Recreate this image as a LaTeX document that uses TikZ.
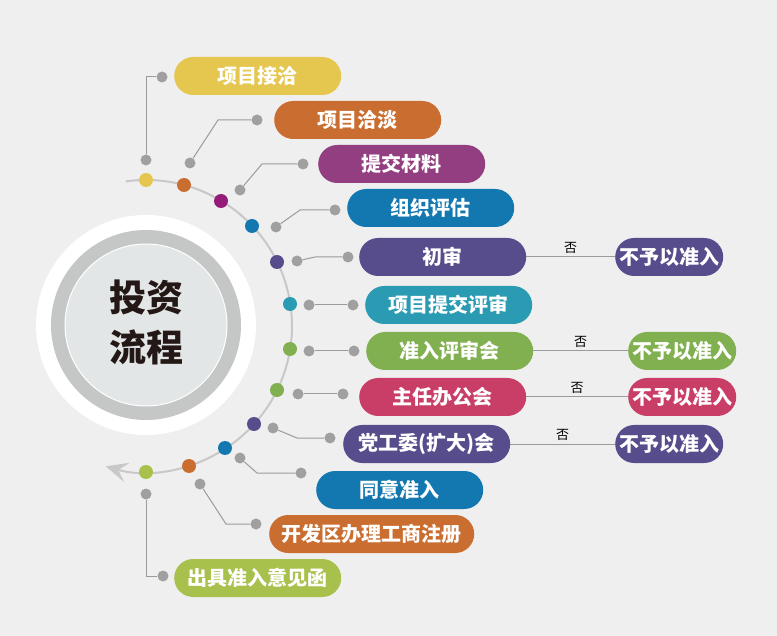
\documentclass[tikz,border=0pt]{standalone}
\usepackage{fontspec}
\usepackage{xcolor}
\usepackage{tikz}
\usetikzlibrary{arrows.meta}
\newfontfamily\cjk{Noto Sans CJK SC}
\definecolor{IPBack}{HTML}{EFEFEF}
\definecolor{IPYellow}{HTML}{E5C64F}
\definecolor{IPOrange}{HTML}{C96D30}
\definecolor{IPPlum}{HTML}{933E80}
\definecolor{IPMagenta}{HTML}{951B78}
\definecolor{IPBlue}{HTML}{1478B0}
\definecolor{IPPurple}{HTML}{574C8C}
\definecolor{IPTeal}{HTML}{2A9BB3}
\definecolor{IPGreen}{HTML}{80B04F}
\definecolor{IPRose}{HTML}{C93E66}
\definecolor{IPLime}{HTML}{A8C04C}
\definecolor{IPDot}{HTML}{A0A0A0}
\definecolor{IPLine}{HTML}{9B9B9B}
\definecolor{IPArc}{HTML}{C8C8C8}
\definecolor{IPRing}{HTML}{C5C6C6}
\definecolor{IPCore}{HTML}{E3E6E7}
\definecolor{IPInk}{HTML}{231815}

\begin{document}
\begin{tikzpicture}[x=1pt,y=1pt,yscale=-1,
  stepbox/.style={rounded corners=19pt,minimum height=38pt,minimum width=167pt,inner sep=0pt,anchor=west,text=white,font=\cjk\bfseries\fontsize{20}{20}\selectfont},
  nobox/.style={stepbox,minimum width=108pt},
  arcdot/.style={circle,inner sep=0pt,minimum size=14pt},
  pin/.style={circle,fill=IPDot,inner sep=0pt,minimum size=11pt},
  link/.style={IPLine,line width=1pt},
  nolabel/.style={above=2pt,inner sep=1pt,text=black,font=\cjk\fontsize{13}{13}\selectfont}]
\fill[IPBack] (0,0) rectangle (777,636);
\path[use as bounding box] (0,0) rectangle (777,636);
% hub
\fill[white] (146,325) circle (110);
\fill[IPRing] (146,325) circle (95);
\draw[white,line width=1pt,fill=IPCore] (146,325) circle (81);
\node[align=center,text=IPInk,font=\cjk\bfseries\fontsize{37}{50}\selectfont] (hub) at (146,322) {投资\\流程};
% arc with arrow
\draw[IPArc,line width=2pt,-{Stealth[length=22pt,width=20pt,inset=9pt]}] (146,326) ++(-98:146) arc[start angle=-98,end angle=106,radius=146];
% dots on the arc
\node[arcdot,fill=IPYellow] (d1) at (146,180) {};
\node[arcdot,fill=IPOrange] (d2) at (184,185) {};
\node[arcdot,fill=IPMagenta] (d3) at (221,201) {};
\node[arcdot,fill=IPBlue] (d4) at (252,226) {};
\node[arcdot,fill=IPPurple] (d5) at (277,262) {};
\node[arcdot,fill=IPTeal] (d6) at (290,304) {};
\node[arcdot,fill=IPGreen] (d7) at (290,349) {};
\node[arcdot,fill=IPGreen] (d8) at (277,390) {};
\node[arcdot,fill=IPPurple] (d9) at (254,424) {};
\node[arcdot,fill=IPBlue] (d10) at (225,448) {};
\node[arcdot,fill=IPOrange] (d11) at (189,466) {};
\node[arcdot,fill=IPLime] (d12) at (146,472) {};
% steps
\node[stepbox,fill=IPYellow] (s1) at (174,76) {项目接洽};
\node[stepbox,fill=IPOrange] (s2) at (274,120) {项目洽淡};
\node[stepbox,fill=IPPlum] (s3) at (318,164) {提交材料};
\node[stepbox,fill=IPBlue] (s4) at (347,208) {组织评估};
\node[stepbox,fill=IPPurple] (s5) at (359,257) {初审};
\node[stepbox,fill=IPTeal] (s6) at (365,305) {项目提交评审};
\node[stepbox,fill=IPGreen] (s7) at (366,351) {准入评审会};
\node[stepbox,fill=IPRose] (s8) at (359,397) {主任办公会};
\node[stepbox,fill=IPPurple] (s9) at (343,444) {党工委(扩大)会};
\node[stepbox,fill=IPBlue] (s10) at (316,490) {同意准入};
\node[stepbox,fill=IPOrange,minimum width=205pt] (s11) at (269,534) {开发区办理工商注册};
\node[stepbox,fill=IPLime] (s12) at (174,578) {出具准入意见函};
% rejections
\node[nobox,fill=IPPurple] (n5) at (615,257) {不予以准入};
\node[nobox,fill=IPGreen] (n7) at (628,351) {不予以准入};
\node[nobox,fill=IPRose] (n8) at (628,397) {不予以准入};
\node[nobox,fill=IPPurple] (n9) at (615,444) {不予以准入};
\draw[link] (s5) -- (n5) node[midway,nolabel] {否};
\draw[link] (s7) -- (n7) node[midway,nolabel] {否};
\draw[link] (s8) -- (n8) node[midway,nolabel] {否};
\draw[link] (s9) -- (n9) node[midway,nolabel] {否};
% pins
\node[pin] (i1) at (146,160) {};
\node[pin] (o1) at (162,77) {};
\node[pin] (i2) at (190,163) {};
\node[pin] (o2) at (257,120) {};
\node[pin] (i3) at (240,190) {};
\node[pin] (o3) at (303,164) {};
\node[pin] (i4) at (276,227) {};
\node[pin] (o4) at (335,210) {};
\node[pin] (i5) at (297,261) {};
\node[pin] (o5) at (348,257) {};
\node[pin] (i6) at (309,305) {};
\node[pin] (o6) at (353,305) {};
\node[pin] (i7) at (309,351) {};
\node[pin] (o7) at (354,351) {};
\node[pin] (i8) at (298,394) {};
\node[pin] (o8) at (343,394) {};
\node[pin] (i9) at (273,428) {};
\node[pin] (o9) at (330,438) {};
\node[pin] (i10) at (240,458) {};
\node[pin] (o10) at (301,473) {};
\node[pin] (i11) at (200,484) {};
\node[pin] (o11) at (256,524) {};
\node[pin] (i12) at (146,494) {};
\node[pin] (o12) at (163,576) {};
\draw[link] (i1) |- (o1);
\draw[link] (i2) -- (218,120) -- (o2);
\draw[link] (i3) -- (262,164) -- (o3);
\draw[link] (i4) -- (300,210) -- (o4);
\draw[link] (i5) -- (315,257) -- (o5);
\draw[link] (i6) -- (o6);
\draw[link] (i7) -- (o7);
\draw[link] (i8) -- (o8);
\draw[link] (i9) -- (297,438) -- (o9);
\draw[link] (i10) -- (257,473) -- (o10);
\draw[link] (i11) -- (226,524) -- (o11);
\draw[link] (i12) |- (o12);
\end{tikzpicture}
\end{document}
